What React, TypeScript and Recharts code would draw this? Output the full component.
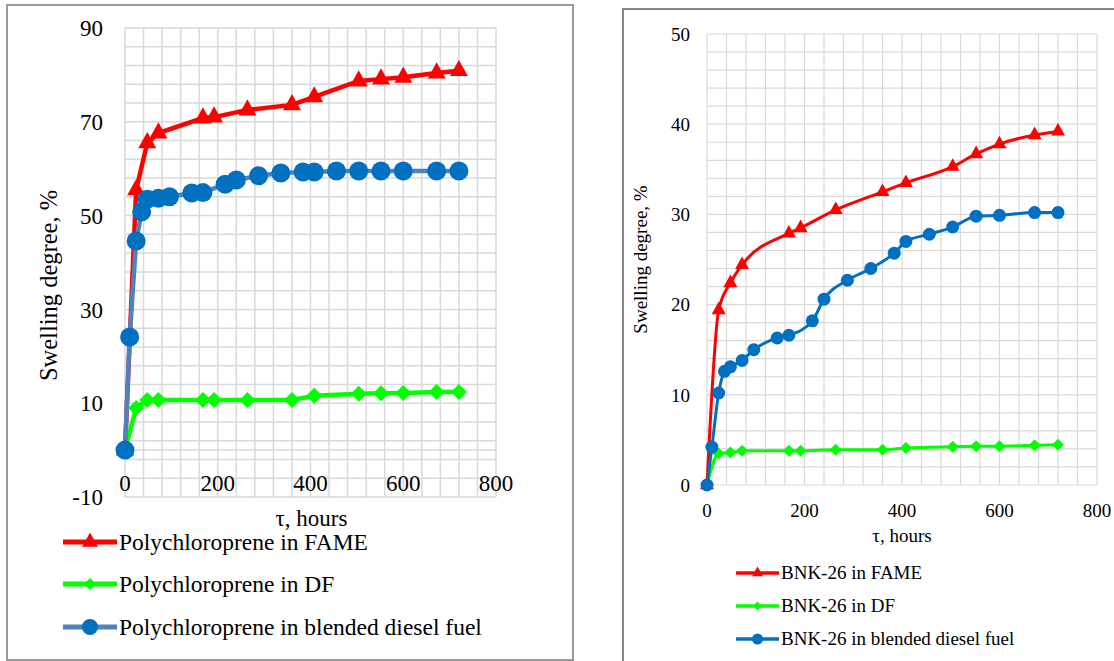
import React from 'react';
import {
  LineChart,
  Line,
  XAxis,
  YAxis,
  CartesianGrid,
  ReferenceLine,
  Label,
} from 'recharts';

// hours of measurement
const fameHours = [0, 24, 48, 72, 168, 192, 264, 360, 408, 504, 552, 600, 672, 720];
const dfHours = [0, 24, 48, 72, 168, 192, 264, 360, 408, 504, 552, 600, 672, 720];
const blendHours = [0, 10, 24, 36, 48, 72, 96, 144, 168, 216, 240, 288, 336, 384, 408, 456, 504, 552, 600, 672, 720];

// polychloroprene, swelling degree %
const pcFame = [0, 55.5, 65.5, 67.6, 70.8, 71.0, 72.5, 73.6, 75.3, 78.7, 79.1, 79.5, 80.4, 80.9];
const pcDf = [0, 9.0, 10.7, 10.7, 10.7, 10.7, 10.7, 10.7, 11.6, 12.0, 12.1, 12.2, 12.4, 12.4];
const pcBlend = [0, 24.1, 44.6, 50.8, 53.5, 53.7, 54.0, 54.8, 54.9, 56.7, 57.6, 58.5, 59.1, 59.3, 59.3, 59.5, 59.5, 59.5, 59.5, 59.5, 59.5];

// BNK-26, swelling degree %
const bnkFame = [0, 19.4, 22.4, 24.4, 27.9, 28.5, 30.5, 32.5, 33.5, 35.3, 36.7, 37.8, 38.8, 39.2];
const bnkDf = [0, 3.5, 3.6, 3.8, 3.8, 3.8, 3.9, 3.9, 4.1, 4.25, 4.3, 4.3, 4.4, 4.45];
const bnkBlend = [0, 4.2, 10.2, 12.6, 13.1, 13.8, 15.0, 16.3, 16.6, 18.2, 20.6, 22.7, 24.0, 25.7, 27.0, 27.8, 28.6, 29.8, 29.9, 30.2, 30.2];

// axis ticks (grid every 40 h, labels every 200 h)
const hourTicks = [0, 40, 80, 120, 160, 200, 240, 280, 320, 360, 400, 440, 480, 520, 560, 600, 640, 680, 720, 760, 800];
const hourLabels = [0, 200, 400, 600, 800];
const pcTicks = [-10, -6, -2, 2, 6, 10, 14, 18, 22, 26, 30, 34, 38, 42, 46, 50, 54, 58, 62, 66, 70, 74, 78, 82, 86, 90];
const pcLabels = [-10, 10, 30, 50, 70, 90];
const bnkTicks = [0, 2, 4, 6, 8, 10, 12, 14, 16, 18, 20, 22, 24, 26, 28, 30, 32, 34, 36, 38, 40, 42, 44, 46, 48, 50];
const bnkLabels = [0, 10, 20, 30, 40, 50];

const pcNames = [
  'Polychloroprene in FAME',
  'Polychloroprene in DF',
  'Polychloroprene in blended diesel fuel',
];
const bnkNames = ['BNK-26 in FAME', 'BNK-26 in DF', 'BNK-26 in blended diesel fuel'];

const zip = (hours: number[], vals: number[]) => hours.map((h, i) => ({ h, v: vals[i] }));

const SERIF = '"Liberation Serif", "Times New Roman", serif';
const RED = '#FF0000';
const GREEN = '#00FF00';
const BLUE = '#0070C0';
const GRID = '#d9d9d9';

function markerShape(kind: string, size: number, color: string, cx: number, cy: number, key?: string) {
  if (kind === 'triangle') {
    const h = size * 0.9;
    return (
      <polygon
        key={key}
        points={`${cx},${cy - (h * 2) / 3} ${cx - size / 2},${cy + h / 3} ${cx + size / 2},${cy + h / 3}`}
        fill={color}
      />
    );
  }
  if (kind === 'diamond') {
    const r = size / 2;
    return (
      <polygon
        key={key}
        points={`${cx},${cy - r} ${cx + r},${cy} ${cx},${cy + r} ${cx - r},${cy}`}
        fill={color}
      />
    );
  }
  return <circle key={key} cx={cx} cy={cy} r={size / 2} fill={color} />;
}

const dotOf = (kind: string, size: number, color: string) => (props: any) =>
  markerShape(kind, size, color, props.cx, props.cy, `${kind}-${props.index}`);

function LegendItem(props: {
  top: number;
  left: number;
  lineW: number;
  lineH: number;
  lineColor: string;
  markerColor: string;
  kind: string;
  markerSize: number;
  fontSize: number;
  text: string;
}) {
  const { top, left, lineW, lineH, lineColor, markerColor, kind, markerSize, fontSize, text } = props;
  const h = 30;
  return (
    <div
      style={{
        position: 'absolute',
        top: top - h / 2,
        left,
        height: h,
        display: 'flex',
        alignItems: 'center',
        fontFamily: SERIF,
        fontSize,
        whiteSpace: 'nowrap',
        color: '#000',
      }}
    >
      <svg width={lineW} height={h} style={{ display: 'block' }}>
        <line x1={0} y1={h / 2} x2={lineW} y2={h / 2} stroke={lineColor} strokeWidth={lineH} />
        {markerShape(kind, markerSize, markerColor, lineW / 2, h / 2)}
      </svg>
      <span style={{ marginLeft: 2 }}>{text}</span>
    </div>
  );
}

function PolychloropreneChart() {
  const xTick = (p: any) =>
    hourLabels.includes(p.payload.value) ? (
      <text x={p.x} y={p.y - 16} textAnchor="middle" dominantBaseline="central" fontFamily={SERIF} fontSize={23} fill="#000">
        {p.payload.value}
      </text>
    ) : (
      <g />
    );

  return (
    <LineChart width={573} height={661} margin={{ top: 28, right: 77, left: 65, bottom: 134 }}>
      <CartesianGrid stroke={GRID} strokeWidth={1.5} />
      <XAxis
        type="number"
        dataKey="h"
        domain={[0, 800]}
        ticks={hourTicks}
        interval={0}
        tick={xTick}
        tickLine={false}
        axisLine={false}
        tickSize={0}
        height={30}
      >
        <Label
          content={(p: any) => (
            <text x={p.viewBox.x + p.viewBox.width / 2 + 1} y={p.viewBox.y + 21} textAnchor="middle" dominantBaseline="central" fontFamily={SERIF} fontSize={23} fill="#000">
              τ, hours
            </text>
          )}
        />
      </XAxis>
      <YAxis
        type="number"
        domain={[-10, 90]}
        ticks={pcTicks}
        interval={0}
        width={60}
        tickLine={false}
        axisLine={false}
        tickSize={0}
        tickMargin={22}
        tickFormatter={(v: number) => (pcLabels.includes(v) ? String(v) : '')}
        tick={{ fill: '#000', fontSize: 23, fontFamily: SERIF }}
      >
        <Label
          content={(p: any) => {
            const x = p.viewBox.x - 17;
            const y = p.viewBox.y + p.viewBox.height / 2 + 23;
            return (
              <text x={x} y={y} transform={`rotate(-90, ${x}, ${y})`} textAnchor="middle" dominantBaseline="central" fontFamily={SERIF} fontSize={24.5} fill="#000">
                Swelling degree, %
              </text>
            );
          }}
        />
      </YAxis>
      <ReferenceLine y={0} stroke={GRID} strokeWidth={1.5} />
      <Line
        data={zip(fameHours, pcFame)}
        dataKey="v"
        type="linear"
        stroke={RED}
        strokeWidth={4.5}
        dot={dotOf('triangle', 18, RED)}
        activeDot={false}
        isAnimationActive={false}
      />
      <Line
        data={zip(dfHours, pcDf)}
        dataKey="v"
        type="linear"
        stroke={GREEN}
        strokeWidth={4.5}
        dot={dotOf('diamond', 16, GREEN)}
        activeDot={false}
        isAnimationActive={false}
      />
      <Line
        data={zip(blendHours, pcBlend)}
        dataKey="v"
        type="linear"
        stroke="#4F81BD"
        strokeWidth={4.5}
        dot={dotOf('circle', 19, BLUE)}
        activeDot={false}
        isAnimationActive={false}
      />
    </LineChart>
  );
}

function BnkChart() {
  const xTick = (p: any) =>
    hourLabels.includes(p.payload.value) ? (
      <text x={p.x} y={p.y + 23} textAnchor="middle" dominantBaseline="central" fontFamily={SERIF} fontSize={19} fill="#000">
        {p.payload.value}
      </text>
    ) : (
      <g />
    );

  return (
    <LineChart width={514} height={661} margin={{ top: 34, right: 17, left: 47, bottom: 146 }}>
      <CartesianGrid stroke={GRID} strokeWidth={1.2} />
      <XAxis
        type="number"
        dataKey="h"
        domain={[0, 800]}
        ticks={hourTicks}
        interval={0}
        tick={xTick}
        tickLine={false}
        axisLine={false}
        tickSize={0}
        height={30}
      >
        <Label
          content={(p: any) => (
            <text x={p.viewBox.x + p.viewBox.width / 2} y={p.viewBox.y + 50} textAnchor="middle" dominantBaseline="central" fontFamily={SERIF} fontSize={19} fill="#000">
              τ, hours
            </text>
          )}
        />
      </XAxis>
      <YAxis
        type="number"
        domain={[0, 50]}
        ticks={bnkTicks}
        interval={0}
        width={60}
        tickLine={false}
        axisLine={false}
        tickSize={0}
        tickMargin={17}
        tickFormatter={(v: number) => (bnkLabels.includes(v) ? String(v) : '')}
        tick={{ fill: '#000', fontSize: 19, fontFamily: SERIF }}
      >
        <Label
          content={(p: any) => {
            const x = p.viewBox.x - 7;
            const y = p.viewBox.y + p.viewBox.height / 2;
            return (
              <text x={x} y={y} transform={`rotate(-90, ${x}, ${y})`} textAnchor="middle" dominantBaseline="central" fontFamily={SERIF} fontSize={19} fill="#000">
                Swelling degree, %
              </text>
            );
          }}
        />
      </YAxis>
      <Line
        data={zip(fameHours, bnkFame)}
        dataKey="v"
        type="monotone"
        stroke={RED}
        strokeWidth={3}
        dot={dotOf('triangle', 14, RED)}
        activeDot={false}
        isAnimationActive={false}
      />
      <Line
        data={zip(dfHours, bnkDf)}
        dataKey="v"
        type="monotone"
        stroke={GREEN}
        strokeWidth={3}
        dot={dotOf('diamond', 12, GREEN)}
        activeDot={false}
        isAnimationActive={false}
      />
      <Line
        data={zip(blendHours, bnkBlend)}
        dataKey="v"
        type="monotone"
        stroke={BLUE}
        strokeWidth={3}
        dot={dotOf('circle', 13, BLUE)}
        activeDot={false}
        isAnimationActive={false}
      />
    </LineChart>
  );
}

export default function App() {
  const pcColors = [RED, GREEN, '#4F81BD'];
  const pcMarkerColors = [RED, GREEN, BLUE];
  const bnkColors = [RED, GREEN, BLUE];
  const kinds = ['triangle', 'diamond', 'circle'];
  const pcRows = [542, 584, 627];
  const bnkRows = [573, 606, 639];

  return (
    <div
      style={{
        position: 'absolute',
        left: 0,
        top: 0,
        width: 1114,
        height: 661,
        overflow: 'hidden',
        background: '#fff',
      }}
    >
      <div
        style={{
          position: 'absolute',
          left: 6,
          top: 4,
          width: 568,
          height: 657,
          boxSizing: 'border-box',
          border: '2px solid #9a9a9a',
        }}
      />
      <div
        style={{
          position: 'absolute',
          left: 622,
          top: 8,
          width: 600,
          height: 700,
          boxSizing: 'border-box',
          border: '2px solid #858585',
        }}
      />
      <div style={{ position: 'absolute', left: 0, top: 0 }}>
        <PolychloropreneChart />
      </div>
      <div style={{ position: 'absolute', left: 600, top: 0 }}>
        <BnkChart />
      </div>
      {pcNames.map((name, i) => (
        <LegendItem
          key={name}
          top={pcRows[i]}
          left={63}
          lineW={54}
          lineH={5}
          lineColor={pcColors[i]}
          markerColor={pcMarkerColors[i]}
          kind={kinds[i]}
          markerSize={i === 1 ? 12 : 16}
          fontSize={23.5}
          text={name}
        />
      ))}
      {bnkNames.map((name, i) => (
        <LegendItem
          key={name}
          top={bnkRows[i]}
          left={736}
          lineW={43}
          lineH={3.5}
          lineColor={bnkColors[i]}
          markerColor={bnkColors[i]}
          kind={kinds[i]}
          markerSize={i === 1 ? 9 : 11}
          fontSize={19}
          text={name}
        />
      ))}
    </div>
  );
}
